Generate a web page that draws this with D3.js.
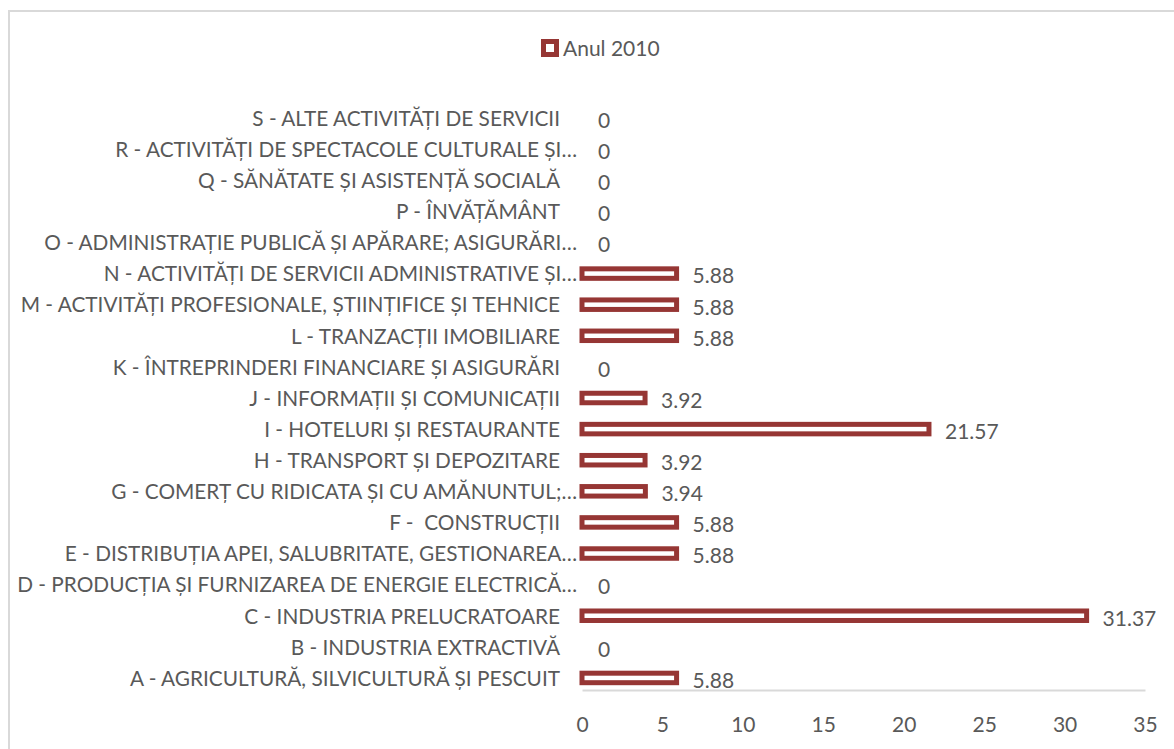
<!DOCTYPE html>
<html><head><meta charset="utf-8">
<script src="https://cdn.jsdelivr.net/npm/d3@7"></script>
<style>body{margin:0;background:#fff}svg{display:block}text{white-space:pre}</style>
</head><body>
<svg id="c" width="1174" height="749"></svg>
<script>
const categories = [
  "A - AGRICULTURĂ, SILVICULTURĂ ȘI PESCUIT",
  "B - INDUSTRIA EXTRACTIVĂ",
  "C - INDUSTRIA PRELUCRATOARE",
  "D - PRODUCȚIA ȘI FURNIZAREA DE ENERGIE ELECTRICĂ…",
  "E - DISTRIBUȚIA APEI, SALUBRITATE, GESTIONAREA…",
  "F -  CONSTRUCȚII",
  "G - COMERȚ CU RIDICATA ȘI CU AMĂNUNTUL;…",
  "H - TRANSPORT ȘI DEPOZITARE",
  "I - HOTELURI ȘI RESTAURANTE",
  "J - INFORMAȚII ȘI COMUNICAȚII",
  "K - ÎNTREPRINDERI FINANCIARE ȘI ASIGURĂRI",
  "L - TRANZACȚII IMOBILIARE",
  "M - ACTIVITĂȚI PROFESIONALE, ȘTIINȚIFICE ȘI TEHNICE",
  "N - ACTIVITĂȚI DE SERVICII ADMINISTRATIVE ȘI…",
  "O - ADMINISTRAȚIE PUBLICĂ ȘI APĂRARE; ASIGURĂRI…",
  "P - ÎNVĂȚĂMÂNT",
  "Q - SĂNĂTATE ȘI ASISTENȚĂ SOCIALĂ",
  "R - ACTIVITĂȚI DE SPECTACOLE CULTURALE ȘI…",
  "S - ALTE ACTIVITĂȚI DE SERVICII"
];
const values2010 = [5.88, 0, 31.37, 0, 5.88, 5.88, 3.94, 3.92, 21.57, 3.92, 0, 5.88, 5.88, 5.88, 0, 0, 0, 0, 0];
const seriesName = "Anul 2010";
const xTicks = [0, 5, 10, 15, 20, 25, 30, 35];

const svg = d3.select("#c");
const font = "Lato, 'Open Sans', sans-serif";
const gray = "#595959";
const barColor = "#963634";

svg.append("rect").attr("x", 9).attr("y", 11).attr("width", 1200).attr("height", 800)
  .attr("fill", "#fff").attr("stroke", "#d9d9d9").attr("stroke-width", 2);

const x = d3.scaleLinear().domain([0, 35]).range([582, 1145]);
const y = d3.scaleBand().domain(categories.slice().reverse()).range([103, 694]).padding(0);

// axis
const axis = d3.axisBottom(x).tickValues(xTicks).tickSize(0).tickPadding(0);
const ax = svg.append("g").attr("transform", "translate(0,690)").call(axis);
ax.select(".domain").attr("stroke", "#d9d9d9").attr("stroke-width", 2);
ax.selectAll(".tick text").attr("fill", gray).attr("font-family", font)
  .attr("font-size", 21).attr("dy", null).attr("y", 42);

// category labels
svg.append("g").selectAll("text").data(categories).join("text")
  .attr("x", d => d.endsWith("…") ? 577 : 560)
  .attr("y", d => y(d) + y.bandwidth() / 2)
  .attr("dy", "0.35em")
  .attr("text-anchor", "end")
  .attr("fill", gray).attr("font-family", font).attr("font-size", 20.8)
  .text(d => d);

// bars
const barH = 9.5;
svg.append("g").selectAll("rect").data(categories.filter((c, i) => values2010[i] > 0)).join("rect")
  .attr("x", d => x(0))
  .attr("y", d => y(d) + y.bandwidth() / 2 - barH / 2 - 0.5)
  .attr("width", d => x(values2010[categories.indexOf(d)]) - x(0))
  .attr("height", barH)
  .attr("fill", "#fff").attr("stroke", barColor).attr("stroke-width", 5);

// value labels
svg.append("g").selectAll("text").data(categories).join("text")
  .attr("x", d => x(values2010[categories.indexOf(d)]) + 16)
  .attr("y", d => y(d) + y.bandwidth() / 2 + 2)
  .attr("dy", "0.35em")
  .attr("fill", gray).attr("font-family", font).attr("font-size", 21)
  .text(d => d3.format("")(values2010[categories.indexOf(d)]));

// legend
const lg = svg.append("g");
lg.append("rect").attr("x", 543.5).attr("y", 41.5).attr("width", 13).attr("height", 13)
  .attr("fill", "#fff").attr("stroke", barColor).attr("stroke-width", 5);
lg.append("text").attr("x", 563).attr("y", 49).attr("dy", "0.35em")
  .attr("fill", gray).attr("font-family", font).attr("font-size", 21).text(seriesName);
</script>
</body></html>
